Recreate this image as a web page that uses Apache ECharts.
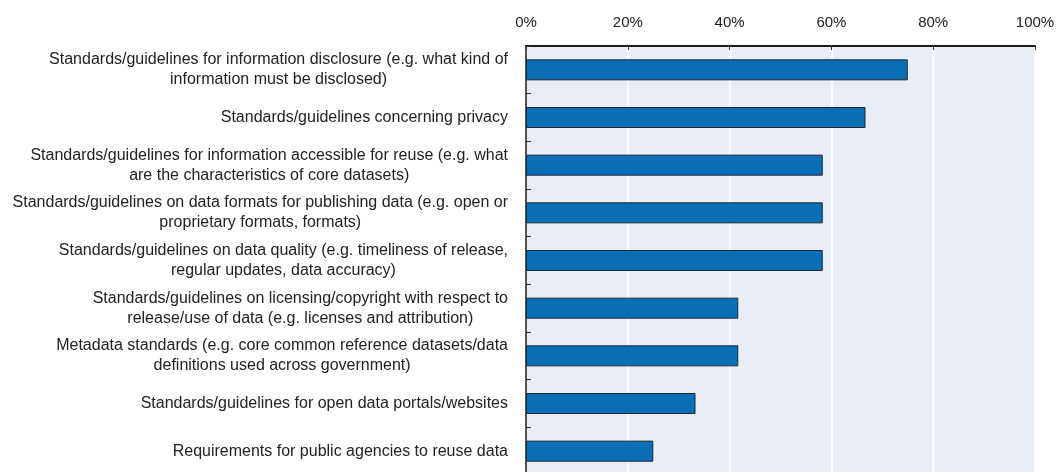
<!DOCTYPE html>
<html>
<head>
<meta charset="utf-8">
<script src="https://cdn.jsdelivr.net/npm/echarts@6/dist/echarts.min.js"></script>
<style>
  html, body { margin: 0; padding: 0; background: #ffffff; }
  #chart { width: 1056px; height: 472px; }
</style>
</head>
<body>
<div id="chart"></div>
<script>
// Categories (top to bottom), each line of a wrapped label separated by "\n"
const categories = [
  'Standards/guidelines for information disclosure (e.g. what kind of\ninformation must be disclosed)',
  'Standards/guidelines concerning privacy',
  'Standards/guidelines for information accessible for reuse (e.g. what\nare the characteristics of core datasets)',
  'Standards/guidelines on data formats for publishing data (e.g. open or\nproprietary formats, formats)',
  'Standards/guidelines on data quality (e.g. timeliness of release,\nregular updates, data accuracy)',
  'Standards/guidelines on licensing/copyright with respect to\nrelease/use of data (e.g. licenses and attribution)',
  'Metadata standards (e.g. core common reference datasets/data\ndefinitions used across government)',
  'Standards/guidelines for open data portals/websites',
  'Requirements for public agencies to reuse data'
];

// Share of respondents, percent
const shares = [75.0, 66.7, 58.3, 58.3, 58.3, 41.7, 41.7, 33.3, 25.0];

// Percentage axis ticks
const axisTicks = [0, 20, 40, 60, 80, 100];

const chart = echarts.init(document.getElementById('chart'), null, { renderer: 'canvas' });

const labelFont = 'Arial, "Liberation Sans", sans-serif';

chart.setOption({
  animation: false,
  grid: {
    left: 526,
    top: 46,
    width: 509,
    height: 429,
    containLabel: false,
    outerBoundsMode: 'none',
    show: true,
    backgroundColor: '#e9edf6',
    borderWidth: 0
  },
  xAxis: {
    type: 'value',
    position: 'top',
    min: axisTicks[0],
    max: axisTicks[axisTicks.length - 1],
    interval: axisTicks[1] - axisTicks[0],
    axisLine: { show: true, lineStyle: { color: '#1a1a1a', width: 2 } },
    axisTick: { show: true, inside: true, length: 4, lineStyle: { color: '#333', width: 1 } },
    splitLine: { show: true, lineStyle: { color: '#ffffff', width: 1.5 } },
    axisLabel: {
      formatter: '{value}%',
      margin: 16,
      color: '#222',
      fontSize: 15,
      fontFamily: labelFont
    }
  },
  yAxis: {
    type: 'category',
    data: categories,
    inverse: true,
    axisLine: { show: true, lineStyle: { color: '#1a1a1a', width: 1.5 } },
    axisTick: { show: true, inside: true, length: 5, lineStyle: { color: '#333', width: 1 } },
    splitLine: { show: false },
    axisLabel: {
      margin: 18,
      color: '#222',
      fontSize: 16,
      fontFamily: labelFont,
      lineHeight: 20,
      formatter: function (value) {
        return value.split('\n').map(function (line) { return '{c|' + line + '}'; }).join('\n');
      },
      rich: {
        c: {
          align: 'center',
          color: '#222',
          fontSize: 16,
          fontFamily: labelFont,
          lineHeight: 20
        }
      }
    }
  },
  series: [{
    type: 'bar',
    data: shares,
    barWidth: 21,
    itemStyle: {
      color: '#0a6fb7',
      borderColor: '#1b2733',
      borderWidth: 1
    }
  }]
});
</script>
</body>
</html>
